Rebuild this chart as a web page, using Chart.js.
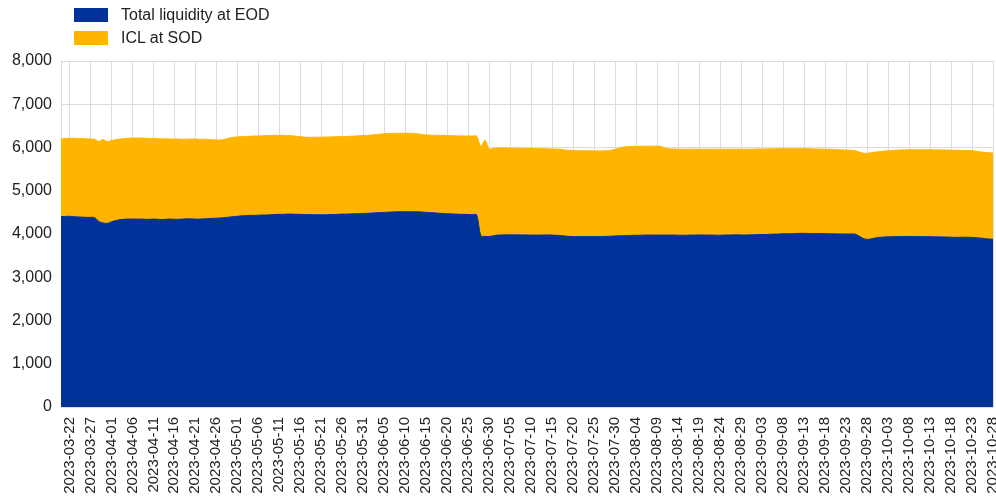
<!DOCTYPE html>
<html>
<head>
<meta charset="utf-8">
<script src="https://cdn.jsdelivr.net/npm/chart.js@4/dist/chart.umd.min.js"></script>
<style>
  html, body { margin: 0; padding: 0; background: #fff; }
  #wrap { position: relative; width: 996px; height: 500px; overflow: hidden; }
  #legend { position: absolute; left: 74px; top: 3px; font-family: "Liberation Sans", Arial, sans-serif; font-size: 16px; color: #222; }
  .item { display: flex; align-items: center; height: 23px; }
  .sw { width: 34px; height: 14px; margin-right: 13px; }
</style>
</head>
<body>
<div id="wrap">
  <canvas id="c" width="996" height="500"></canvas>
  <div id="legend"></div>
</div>
<script>
// ---- data ----
const startDate = "2023-03-20";   // first daily observation
const seriesNames = ["Total liquidity at EOD", "ICL at SOD"];
const seriesColors = ["#003299", "#FFB400"];
const yTicks = [0, 1000, 2000, 3000, 4000, 5000, 6000, 7000, 8000];

// Total liquidity at EOD (EUR bn), one value per day
const totalLiquidityEOD = [
  4400,4405,4410,4400,4395,4390,4385,4385,4380,            // 03-20 .. 03-28
  4290,4255,4245,4280,4310,4330,                           // 03-29 .. 04-03
  4340,4345,4345,4345,                                     // 04-04 .. 04-07
  4345,4340,4340,4345,4340,4335,4340,4345,                 // 04-08 .. 04-15
  4340,4340,4345,4350,4350,4345,4345,4350,                 // 04-16 .. 04-23
  4355,4360,4365,4370,                                     // 04-24 .. 04-27
  4380,4390,4400,4410,                                     // 04-28 .. 05-01
  4420,4425,4430,4430,4435,4440,4440,4445,4450,4455,       // 05-02 .. 05-11
  4455,4460,4460,4455,4455,4450,4450,4445,4445,            // 05-12 .. 05-20
  4445,4445,4450,4450,4455,4460,4460,4465,4470,4470,4475,4478, // 05-21 .. 06-01
  4485,4490,4495,4500,4505,4510,4512,4515,4516,4516,       // 06-02 .. 06-11
  4515,4512,4508,4500,                                     // 06-12 .. 06-15
  4495,4490,4480,4475,4470,4465,4460,4455,4455,4450,4450,4445, // 06-16 .. 06-27
  3960,3945,3940,3960,                                     // 06-28 .. 07-01
  3975,3978,3980,3980,3980,3980,3978,3978,3975,3975,3975,3978,3978,3975, // 07-02 .. 07-15
  3970,3965,3955,3945,3942,3942,3940,3940,3940,3940,3940,3942,3945,      // 07-16 .. 07-28
  3950,3955,3960,3962,3965,                                // 07-29 .. 08-02
  3968,3970,3972,3975,3975,3975,3975,3975,3975,            // 08-03 .. 08-11
  3975,3975,3972,3970,3972,3975,3975,3978,3978,3975,3975,3972,3972,3975,3978,3978,3980,3978,3977, // 08-12 .. 08-30
  3980,3982,3985,3988,3990,3995,3998,4000,4005,4008,4010,4012,4015,4015, // 08-31 .. 09-13
  4012,4012,4010,4010,4008,4005,4005,4002,4000,4000,4000,4000,           // 09-14 .. 09-25
  3960,3900,3875,3890,3910,3922,                           // 09-26 .. 10-01
  3930,3935,3938,3940,3940,3942,3942,3940,3940,3940,3938,3938,3935,3935,3932, // 10-02 .. 10-16
  3930,3925,3922,3922,3925,3925,3920,3915,3905,3895,3885,3880            // 10-17 .. 10-28
];

// ICL at SOD (EUR bn), stacked on top
const iclSOD = [
  1797,1800,1802,1815,1815,1815,1815,1810,1810,
  1850,1930,1890,1880,1870,1865,
  1865,1867,1873,1875,
  1873,1875,1870,1865,1865,1865,1858,1852,
  1855,1855,1845,1842,1845,1850,1845,1840,
  1830,1820,1810,1805,
  1810,1825,1835,1835,
  1830,1830,1830,1835,1833,1830,1835,1833,1830,1827,
  1825,1815,1810,1805,1795,1790,1786,1791,1793,
  1795,1795,1795,1798,1795,1792,1795,1795,1795,1800,1800,1802,
  1805,1810,1815,1818,1817,1815,1816,1813,1812,1812,
  1810,1803,1792,1790,
  1790,1792,1800,1803,1805,1807,1810,1813,1813,1816,1816,1817,
  2070,2220,2025,2020,
  2013,2012,2010,2008,2005,2005,2004,2002,2003,2000,1997,1992,1990,1990,
  1992,1995,1990,1985,1986,1984,1985,1984,1982,1980,1980,1978,1977,
  1985,2005,2030,2048,2054,
  2054,2055,2056,2055,2055,2055,2055,2050,2010,
  1993,1990,1990,1990,1988,1987,1987,1982,1980,1983,1985,1990,1988,1983,1980,1982,1982,1982,1981,
  1980,1980,1980,1977,1978,1975,1972,1972,1967,1965,1963,1961,1958,1957,
  1958,1956,1955,1952,1952,1953,1950,1948,1945,1940,1935,1930,
  1940,1968,1990,1990,1985,1983,
  1985,1990,1994,1998,2002,2003,2006,2010,2010,2010,2010,2010,2010,2010,2010,
  2010,2013,2013,2013,2007,2005,2005,2000,1995,1993,1995,1993
];

// daily category labels
const dates = [];
{
  const d = new Date(startDate + "T00:00:00Z");
  for (let i = 0; i < totalLiquidityEOD.length; i++) {
    dates.push(d.toISOString().slice(0, 10));
    d.setUTCDate(d.getUTCDate() + 1);
  }
}
const labelEvery = 5, labelOffset = 2;   // labels shown from 2023-03-22, every 5 days

// ---- legend (HTML) ----
const lg = document.getElementById('legend');
seriesNames.forEach((n, k) => {
  const it = document.createElement('div'); it.className = 'item';
  const sw = document.createElement('div'); sw.className = 'sw'; sw.style.background = seriesColors[k];
  const tx = document.createElement('span'); tx.textContent = n;
  it.appendChild(sw); it.appendChild(tx); lg.appendChild(it);
});

const FONT = '"Liberation Sans", Arial, sans-serif';
const GRID = '#dcdcdc';

new Chart(document.getElementById('c'), {
  type: 'line',
  data: {
    labels: dates,
    datasets: [
      { label: seriesNames[0], data: totalLiquidityEOD, backgroundColor: seriesColors[0], borderColor: seriesColors[0],
        borderWidth: 1, fill: 'origin', pointRadius: 0, tension: 0.3 },
      { label: seriesNames[1], data: iclSOD, backgroundColor: seriesColors[1], borderColor: seriesColors[1],
        borderWidth: 1, fill: '-1', pointRadius: 0, tension: 0.3 }
    ]
  },
  options: {
    responsive: false,
    animation: false,
    layout: { padding: { top: 61, right: 3, left: 0, bottom: 0 } },
    plugins: { legend: { display: false }, tooltip: { enabled: false } },
    scales: {
      x: {
        type: 'category',
        offset: false,
        grid: { color: GRID, drawTicks: false },
        border: { color: GRID },
        ticks: {
          autoSkip: false, maxRotation: 90, minRotation: 90, padding: 10,
          color: '#222', font: { family: FONT, size: 15 },
          callback: function (v, i) { return (i % labelEvery === labelOffset) ? dates[i] : null; }
        },
        afterFit: function (s) { s.height = 93; s.paddingLeft = 0; s.paddingRight = 0; }
      },
      y: {
        stacked: true, min: yTicks[0], max: yTicks[yTicks.length - 1],
        grid: { color: GRID, drawTicks: false },
        border: { color: GRID },
        afterBuildTicks: function (s) { s.ticks = yTicks.map(v => ({ value: v })); },
        ticks: {
          padding: 9, color: '#222', font: { family: FONT, size: 16 },
          callback: v => v.toLocaleString('en-US')
        },
        afterFit: function (s) { s.width = 61; }
      }
    }
  }
});
</script>
</body>
</html>
